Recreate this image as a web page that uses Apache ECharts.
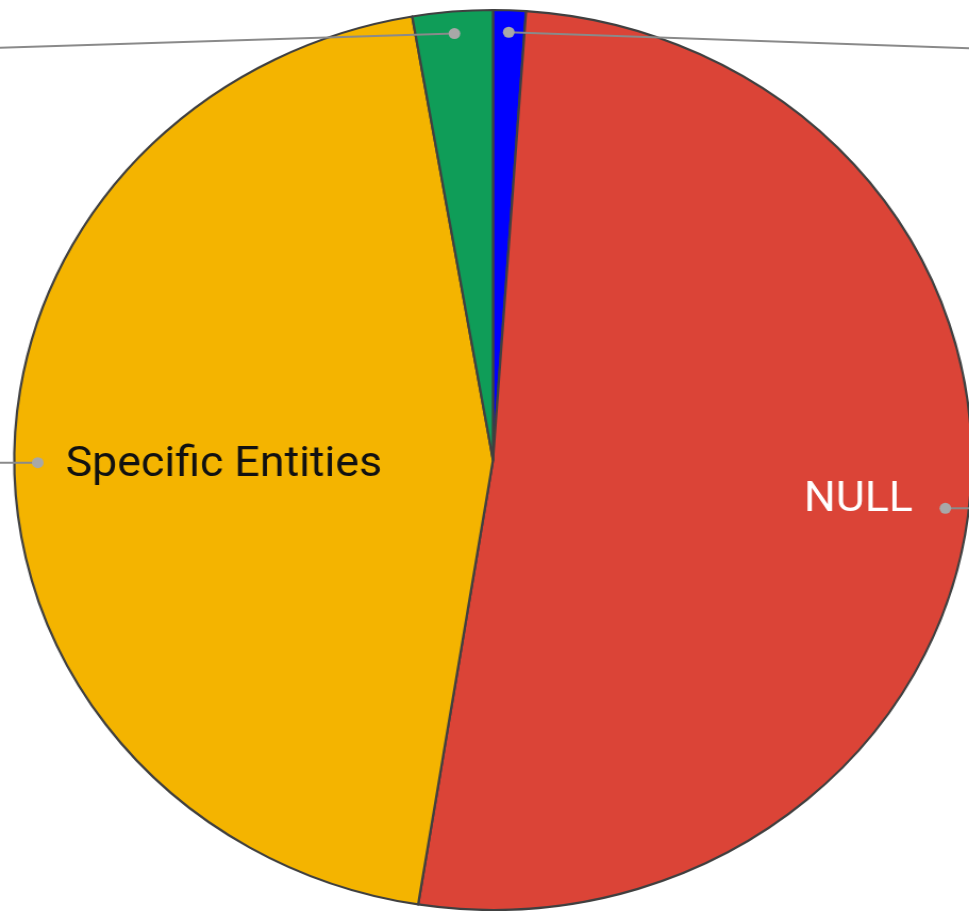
<!DOCTYPE html>
<html><head><meta charset="utf-8">
<script src="https://cdn.jsdelivr.net/npm/echarts@6/dist/echarts.min.js"></script>
<style>
html,body{margin:0;padding:0;overflow:hidden;background:#fff;width:969px;height:911px}
#c{width:911px;height:911px;transform:scaleX(1.0637);transform-origin:0 0}
</style>
</head><body><div id="c"></div>
<script>
// Data (clockwise from 12 o'clock)
const categories = ['Other', 'NULL', 'Specific Entities', 'General'];
const values = [1.1, 51.4, 44.8, 2.7];

// Styles
const SX = 1.0637;
const CX = 493 / SX, CY = 460, R = 450;
const sliceColors = ['#0000ff', '#db4437', '#f4b400', '#0f9d58'];
const insideShow = [false, true, true, false];
const insideColor = ['#ffffff', '#ffffff', '#111111', '#ffffff'];
const insideShift = [[0, 0], [117, 15], [-25, 4], [0, 0]];
const lineSlope = [0.037, 0, 0, 0.033];

const chart = echarts.init(document.getElementById('c'), null, {renderer: 'canvas'});
chart.setOption({
  animation: false,
  backgroundColor: '#ffffff',
  series: [
    {
      type: 'pie', center: [CX, CY], radius: R, startAngle: 90, clockwise: true,
      silent: true, avoidLabelOverlap: false,
      data: categories.map((n, i) => ({
        name: n, value: values[i],
        itemStyle: {color: sliceColors[i]},
        label: {show: insideShow[i], color: insideColor[i]}
      })),
      itemStyle: {borderColor: '#404040', borderWidth: 2.2},
      label: {position: 'inside', formatter: '{b}', fontFamily: 'Roboto', fontSize: 42},
      labelLine: {show: false},
      labelLayout: p => ({dx: insideShift[p.dataIndex][0], dy: insideShift[p.dataIndex][1]}),
      emphasis: {disabled: true}
    },
    {
      type: 'pie', center: [CX, CY], radius: 428, startAngle: 90, clockwise: true,
      silent: true, avoidLabelOverlap: false, z: 3,
      data: categories.map((n, i) => ({name: n, value: values[i]})),
      itemStyle: {color: 'rgba(0,0,0,0)', borderWidth: 0},
      label: {
        show: true, position: 'outside', formatter: '{dot| }',
        rich: {dot: {width: 11, height: 11, borderRadius: 5.5, backgroundColor: '#a8a8a8'}}
      },
      labelLine: {show: true, length: 10, length2: 10, lineStyle: {color: '#8a8a8a', width: 2}},
      labelLayout: p => {
        const pt = p.labelLinePoints[0];
        const dir = pt[0] < CX ? -1 : 1;
        const L = 700;
        const end = [pt[0] + dir * L, pt[1] + lineSlope[p.dataIndex] * L];
        return {x: pt[0], y: pt[1], align: 'center', verticalAlign: 'middle',
                labelLinePoints: [pt, pt, end]};
      },
      emphasis: {disabled: true}
    }
  ]
});
</script>
</body></html>
